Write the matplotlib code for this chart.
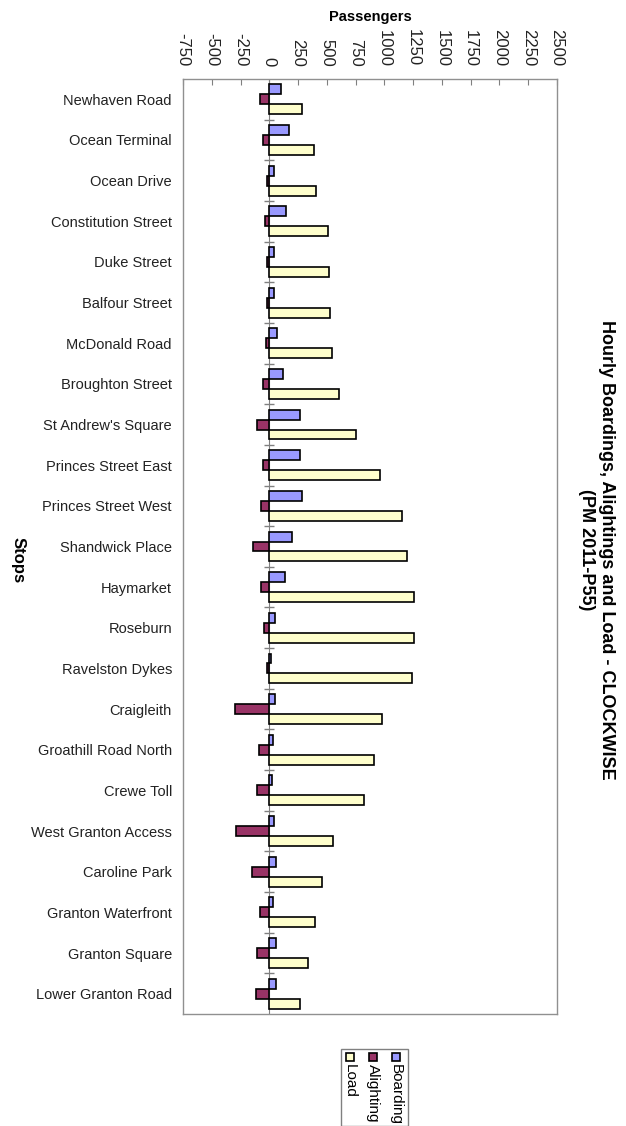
import numpy as np
import matplotlib
matplotlib.use("Agg")
import matplotlib.pyplot as plt
from matplotlib.patches import Rectangle

plt.rcParams["font.family"] = ["Liberation Sans", "DejaVu Sans"]

# Datos (pasajeros por hora)
paradas = [
    "Newhaven Road", "Ocean Terminal", "Ocean Drive", "Constitution Street",
    "Duke Street", "Balfour Street", "McDonald Road", "Broughton Street",
    "St Andrew's Square", "Princes Street East", "Princes Street West",
    "Shandwick Place", "Haymarket", "Roseburn", "Ravelston Dykes",
    "Craigleith", "Groathill Road North", "Crewe Toll",
    "West Granton Access", "Caroline Park", "Granton Waterfront",
    "Granton Square", "Lower Granton Road",
]
boarding = [100, 173, 43, 145, 38, 43, 65, 116, 266, 266, 284, 194, 139,
            46, 17, 46, 29, 23, 38, 58, 32, 55, 58]
alighting = [-80, -58, -17, -40, -23, -23, -25, -55, -107, -55, -75, -142,
             -69, -43, -17, -298, -93, -104, -292, -150, -81, -104, -116]
load = [283, 390, 408, 509, 515, 527, 545, 602, 750, 958, 1152, 1195, 1259,
        1256, 1244, 981, 912, 819, 556, 457, 394, 339, 269]
series = ["Boarding", "Alighting", "Load"]
colores = ["#9999FF", "#993366", "#FFFFCC"]
xticks = np.arange(-750, 2501, 250)
titulo = ["Hourly Boardings, Alightings and Load - CLOCKWISE", "(PM 2011-P55)"]

fig = plt.figure(figsize=(6.26, 11.26), dpi=100)
ax = fig.add_axes([183 / 626, 1 - 1014 / 1126, 374 / 626, (1014 - 79) / 1126])

y = np.arange(len(paradas))
h = 0.245
for k, (vals, col) in enumerate(zip([boarding, alighting, load], colores)):
    ax.barh(y + (k - 1) * h, vals, height=h, color=col, edgecolor="black",
            linewidth=1.2, zorder=3)

# eje de categorias en x = 0 con marcas entre grupos
ax.axvline(0, color="#808080", linewidth=0.8, zorder=2)
ax.plot(np.zeros(len(paradas) - 1), y[:-1] + 0.5, linestyle="none",
        marker="_", markersize=7, color="#808080", zorder=2)

ax.set_xlim(-750, 2500)
ax.set_ylim(len(paradas) - 0.5, -0.5)
ax.xaxis.tick_top()
ax.set_xticks(xticks)
ax.set_xticklabels([str(v) for v in xticks], rotation=-90, va="bottom",
                   ha="center", fontsize=12, color="#222222")
ax.tick_params(axis="x", direction="in", length=4, color="#808080", pad=9)
ax.set_yticks(y)
ax.set_yticklabels(paradas, fontsize=10.5, color="#222222")
ax.tick_params(axis="y", length=0, pad=8)
for s in ax.spines.values():
    s.set_color("#909090")
    s.set_linewidth(1.0)

fig.text(370 / 626, 1 - 17 / 1126, "Passengers", ha="center", va="center",
         fontsize=10.5, fontweight="bold")
fig.text(18 / 626, 1 - 560 / 1126, "Stops", ha="center", va="center",
         rotation=-90, fontsize=12, fontweight="bold")
# titulo girado, una linea por texto
for linea, xc in zip(titulo, [607, 586]):
    fig.text(xc / 626, 1 - 550 / 1126, linea, ha="center", va="center",
             rotation=-90, fontsize=13, fontweight="bold")

# leyenda girada a mano
lx0, ly_top = 341, 1049
fig.patches.append(Rectangle((lx0 / 626, 0), (408 - lx0) / 626,
                             1 - ly_top / 1126, transform=fig.transFigure,
                             facecolor="white", edgecolor="#808080",
                             linewidth=1.0))
for nombre, col, xc in zip(series, colores, [396, 373, 350]):
    fig.patches.append(Rectangle(((xc - 4) / 626, 1 - 1061 / 1126), 8 / 626,
                                 8 / 1126, transform=fig.transFigure,
                                 facecolor=col, edgecolor="black",
                                 linewidth=1.2))
    fig.text(xc / 626, 1 - 1064 / 1126, nombre, rotation=-90, ha="center",
             va="top", fontsize=11)

fig.savefig("out.png", dpi=100)
